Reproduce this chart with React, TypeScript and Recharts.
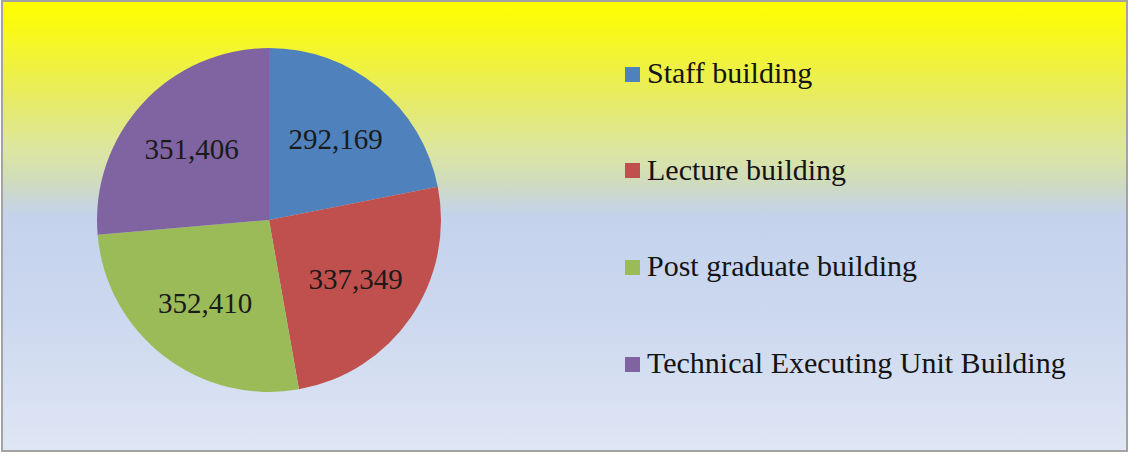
import React from 'react';
import { PieChart, Pie, Cell, Legend } from 'recharts';

const categories = ['Staff building', 'Lecture building', 'Post graduate building', 'Technical Executing Unit Building'];
const areas = [292169, 337349, 352410, 351406];
const colors = ['#4f81bd', '#c0504d', '#9bbb59', '#8064a2'];

const data = categories.map((name, i) => ({ name, value: areas[i] }));

const RADIAN = Math.PI / 180;

const renderLabel = (props: any) => {
  const { cx, cy, midAngle, outerRadius, value } = props;
  const r = outerRadius * 0.61;
  const x = cx + r * Math.cos(-midAngle * RADIAN);
  const y = cy + r * Math.sin(-midAngle * RADIAN);
  return (
    <text x={x} y={y} fill="#1a1a1a" textAnchor="middle" dominantBaseline="central"
      style={{ fontFamily: '"Liberation Serif", "Times New Roman", serif', fontSize: 29 }}>
      {value.toLocaleString('en-US')}
    </text>
  );
};

const renderLegend = () => (
  <div style={{ fontFamily: '"Liberation Serif", "Times New Roman", serif', fontSize: 30, color: '#141414' }}>
    {categories.map((name, i) => (
      <div key={name} style={{ height: 96.6, display: 'flex', alignItems: 'center' }}>
        <span style={{ width: 15, height: 15, background: colors[i], marginRight: 7, marginTop: 2, display: 'inline-block' }} />
        <span style={{ lineHeight: 1 }}>{name}</span>
      </div>
    ))}
  </div>
);

export default function App() {
  return (
    <div style={{ position: 'relative', width: 1132, height: 457 }}>
      <style>{'body{margin:0}'}</style>
      <div style={{
        position: 'absolute', left: 1, top: 0, width: 1127, height: 452, boxSizing: 'border-box',
        border: '2px solid #a3a3a3',
        background: 'linear-gradient(to bottom, #ffff00 0%, #fafa12 5%, #e6eb66 22%, #dce6a0 33%, #d0dcbc 40%, #c9d6d6 44%, #c4d2ec 48%, #ccd8ef 70%, #dfe6f4 100%)',
      }} />
      <div style={{ position: 'absolute', left: 0, top: 0 }}>
        <PieChart width={1132} height={457}>
          <Pie
            data={data}
            dataKey="value"
            nameKey="name"
            cx={264}
            cy={215}
            outerRadius={172}
            startAngle={90}
            endAngle={-270}
            stroke="none"
            label={renderLabel}
            labelLine={false}
            isAnimationActive={false}
          >
            {data.map((d, i) => (
              <Cell key={d.name} fill={colors[i]} />
            ))}
          </Pie>
          <Legend
            layout="vertical"
            content={renderLegend}
            wrapperStyle={{ left: 625, top: 25, width: 490 }}
          />
        </PieChart>
      </div>
    </div>
  );
}
